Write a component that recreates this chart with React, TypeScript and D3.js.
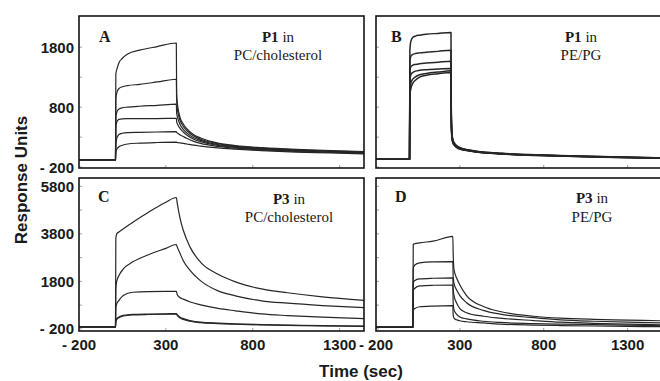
import * as d3 from 'd3';
import React from 'react';

const W = 660;
const H = 381;

// Sensorgrams: time (sec) and response units per injection
const timesA = [-200, 10, 12, 20, 30, 50, 80, 150, 250, 360, 362, 370, 380, 400, 420, 460, 500, 600, 700, 850, 1050, 1250, 1440];
const curvesA = [
  [-80, -80, 1350, 1450, 1540, 1615, 1685, 1750, 1810, 1870, 1000, 780, 640, 520, 440, 340, 285, 200, 160, 125, 95, 75, 60],
  [-80, -80, 950, 1060, 1110, 1140, 1160, 1180, 1220, 1265, 900, 700, 590, 480, 410, 320, 265, 190, 150, 115, 88, 68, 52],
  [-80, -80, 650, 730, 770, 790, 800, 815, 830, 850, 700, 600, 520, 430, 370, 290, 245, 175, 140, 105, 80, 60, 45],
  [-80, -80, 490, 570, 595, 605, 608, 610, 610, 612, 560, 500, 450, 385, 335, 265, 225, 160, 130, 95, 70, 52, 38],
  [-80, -80, 200, 300, 345, 365, 375, 380, 385, 390, 380, 360, 340, 310, 280, 230, 195, 145, 115, 85, 60, 45, 30],
  [-80, -80, 60, 110, 140, 165, 185, 200, 210, 215, 212, 208, 204, 195, 185, 165, 150, 120, 100, 75, 50, 35, 20],
];

const timesB = [-200, 0, 2, 8, 20, 35, 60, 100, 170, 247, 249, 252, 258, 270, 290, 330, 400, 550, 750, 1000, 1250, 1505];
const curvesB = [
  [-70, -70, 1750, 1900, 1965, 1985, 2000, 2015, 2030, 2045, 700, 400, 260, 190, 140, 100, 65, 30, 5, -15, -30, -45],
  [-70, -70, 1560, 1650, 1680, 1695, 1705, 1715, 1730, 1750, 660, 380, 250, 182, 134, 96, 62, 27, 3, -17, -32, -47],
  [-70, -70, 1400, 1475, 1500, 1512, 1525, 1535, 1550, 1566, 620, 360, 240, 175, 128, 92, 59, 25, 1, -19, -34, -49],
  [-70, -70, 1250, 1340, 1380, 1400, 1415, 1425, 1435, 1445, 580, 340, 228, 168, 122, 88, 56, 22, -1, -21, -36, -51],
  [-70, -70, 1100, 1200, 1270, 1305, 1340, 1362, 1385, 1405, 540, 320, 215, 158, 116, 84, 53, 20, -3, -23, -38, -53],
  [-70, -70, 1000, 1110, 1200, 1250, 1300, 1333, 1358, 1378, 500, 300, 200, 150, 110, 80, 50, 18, -5, -25, -40, -55],
];

const timesC = [-200, 10, 12, 17, 30, 55, 110, 200, 300, 360, 365, 380, 400, 440, 500, 600, 700, 850, 1000, 1200, 1440];
const curvesC = [
  [-120, -120, 3600, 3800, 3880, 4010, 4290, 4710, 5130, 5330, 5100, 4500, 3950, 3230, 2600, 2100, 1780, 1480, 1320, 1150, 1000],
  [-120, -120, 1500, 1800, 2050, 2320, 2620, 2920, 3190, 3350, 3250, 3000, 2670, 2250, 1820, 1400, 1190, 980, 880, 780, 690],
  [-120, -120, 700, 850, 1000, 1200, 1340, 1370, 1375, 1380, 1250, 1120, 1050, 930, 810, 660, 560, 430, 360, 290, 230],
  [-120, -120, 150, 220, 300, 370, 410, 425, 435, 445, 400, 300, 230, 150, 80, 40, 10, -20, -40, -60, -80],
  [-120, -120, 120, 190, 270, 340, 385, 405, 415, 420, 370, 270, 200, 120, 60, 20, -5, -35, -55, -75, -95],
];

const timesD = [-200, 20, 22, 30, 60, 140, 258, 260, 265, 280, 300, 340, 440, 540, 740, 900, 1100, 1300, 1505];
const curvesD = [
  [-130, -130, 3350, 3380, 3420, 3490, 3690, 3000, 2300, 1950, 1650, 1200, 740, 530, 330, 250, 200, 170, 140],
  [-130, -130, 2350, 2480, 2580, 2620, 2630, 2000, 1700, 1450, 1200, 900, 580, 420, 270, 180, 120, 80, 50],
  [-130, -130, 1750, 1830, 1900, 1930, 1945, 1500, 1200, 900, 650, 480, 330, 250, 150, 80, 30, 0, -30],
  [-130, -130, 1400, 1500, 1610, 1635, 1645, 900, 600, 420, 300, 220, 120, 70, 20, 0, -20, -40, -60],
  [-130, -130, 580, 650, 730, 760, 775, 400, 250, 180, 140, 100, 50, 0, -40, -60, -80, -95, -110],
];

const yTicksTop = [-200, 300, 800, 1300, 1800];
const yTicksBottom = [-200, 800, 1800, 2800, 3800, 4800, 5800];
const yLabelsTop = [1800, 800, -200];
const yLabelsBottom = [5800, 3800, 1800, -200];
const xTicks = [-200, 300, 800, 1300];

const fmt = (v: number) => (v < 0 ? '- ' + Math.abs(v) : String(v));

const SERIF = '"Liberation Serif", "Times New Roman", serif';
const SANS = '"Liberation Sans", Arial, sans-serif';

const panels = [
  { id: 'A', x0: 79, x1: 364, y0: 16, y1: 168, xMax: 1440, yDomain: [-215, 2320], times: timesA, curves: curvesA,
    yTicks: yTicksTop, yLabels: yLabelsTop, xLabels: false, pep: 'P1', lipid: 'PC/cholesterol',
    letterPos: [99, 42], titleX: 278, titleY: [42, 60], width: 1.2 },
  { id: 'B', x0: 376, x1: 662, y0: 16, y1: 168, xMax: 1505, yDomain: [-215, 2320], times: timesB, curves: curvesB,
    yTicks: yTicksTop, yLabels: [], xLabels: false, pep: 'P1', lipid: 'PE/PG',
    letterPos: [391, 42], titleX: 581, titleY: [42, 60], width: 1.5 },
  { id: 'C', x0: 79, x1: 364, y0: 178, y1: 331, xMax: 1440, yDomain: [-290, 6150], times: timesC, curves: curvesC,
    yTicks: yTicksBottom, yLabels: yLabelsBottom, xLabels: true, pep: 'P3', lipid: 'PC/cholesterol',
    letterPos: [98, 202], titleX: 289, titleY: [204, 222], width: 1.2 },
  { id: 'D', x0: 376, x1: 662, y0: 178, y1: 331, xMax: 1505, yDomain: [-290, 6150], times: timesD, curves: curvesD,
    yTicks: yTicksBottom, yLabels: [], xLabels: true, pep: 'P3', lipid: 'PE/PG',
    letterPos: [395, 202], titleX: 592, titleY: [203, 222], width: 1.2 },
];

const Panel = ({ p }: { p: any }) => {
  const x = d3.scaleLinear().domain([-200, p.xMax]).range([p.x0, p.x1]);
  const y = d3.scaleLinear().domain(p.yDomain).range([p.y1, p.y0]);
  const line = d3
    .line<number>()
    .x((_, i) => x(p.times[i]))
    .y((d) => y(d))
    .curve(d3.curveMonotoneX);
  const clipId = 'clip' + p.id;
  return (
    <g>
      <defs>
        <clipPath id={clipId}>
          <rect x={p.x0} y={p.y0} width={p.x1 - p.x0} height={p.y1 - p.y0} />
        </clipPath>
      </defs>
      <g clipPath={`url(#${clipId})`}>
        {p.curves.map((c: number[], i: number) => (
          <path key={i} d={line(c) || ''} fill="none" stroke="#262626" strokeWidth={p.width} strokeLinejoin="round" />
        ))}
      </g>
      {p.yTicks.map((t: number) => (
        <line key={'yt' + t} x1={p.x0} x2={p.x0 + 3} y1={y(t)} y2={y(t)} stroke="#888" strokeWidth={0.8} />
      ))}
      {xTicks.slice(1).map((t) => (
        <line key={'xt' + t} x1={x(t)} x2={x(t)} y1={p.y1} y2={p.y1 - 3} stroke="#888" strokeWidth={0.8} />
      ))}
      <rect x={p.x0} y={p.y0} width={p.x1 - p.x0} height={p.y1 - p.y0} fill="none" stroke="#151515" strokeWidth={1.6} />
      {p.yLabels.map((t: number) => (
        <text key={'yl' + t} x={74} y={y(t)} dy="0.36em" textAnchor="end" fontFamily={SANS} fontWeight="bold" fontSize={15} fill="#1a1a1a">
          {fmt(t)}
        </text>
      ))}
      {p.xLabels &&
        xTicks.map((t) => (
          <text key={'xl' + t} x={x(t)} y={350} textAnchor="middle" fontFamily={SANS} fontWeight="bold" fontSize={15} fill="#1a1a1a">
            {fmt(t)}
          </text>
        ))}
      <text x={p.letterPos[0]} y={p.letterPos[1]} fontFamily={SERIF} fontWeight="bold" fontSize={16} fill="#1a1a1a">
        {p.id}
      </text>
      <text x={p.titleX} y={p.titleY[0]} textAnchor="middle" fontFamily={SERIF} fontSize={15} fill="#1a1a1a">
        <tspan fontWeight="bold">{p.pep}</tspan> in
      </text>
      <text x={p.titleX} y={p.titleY[1]} textAnchor="middle" fontFamily={SERIF} fontSize={15} fill="#1a1a1a">
        {p.lipid}
      </text>
    </g>
  );
};

export default function App() {
  return (
    <svg width={W} height={H} style={{ position: 'absolute', left: 0, top: 0, background: '#fff' }}>
      <rect width={W} height={H} fill="#fff" />
      {panels.map((p) => (
        <Panel key={p.id} p={p} />
      ))}
      <text
        transform="translate(27,180) rotate(-90)"
        textAnchor="middle"
        fontFamily={SANS}
        fontWeight="bold"
        fontSize={17}
        fill="#1a1a1a"
      >
        Response Units
      </text>
      <text x={361} y={377} textAnchor="middle" fontFamily={SANS} fontWeight="bold" fontSize={17} fill="#1a1a1a">
        Time (sec)
      </text>
    </svg>
  );
}
